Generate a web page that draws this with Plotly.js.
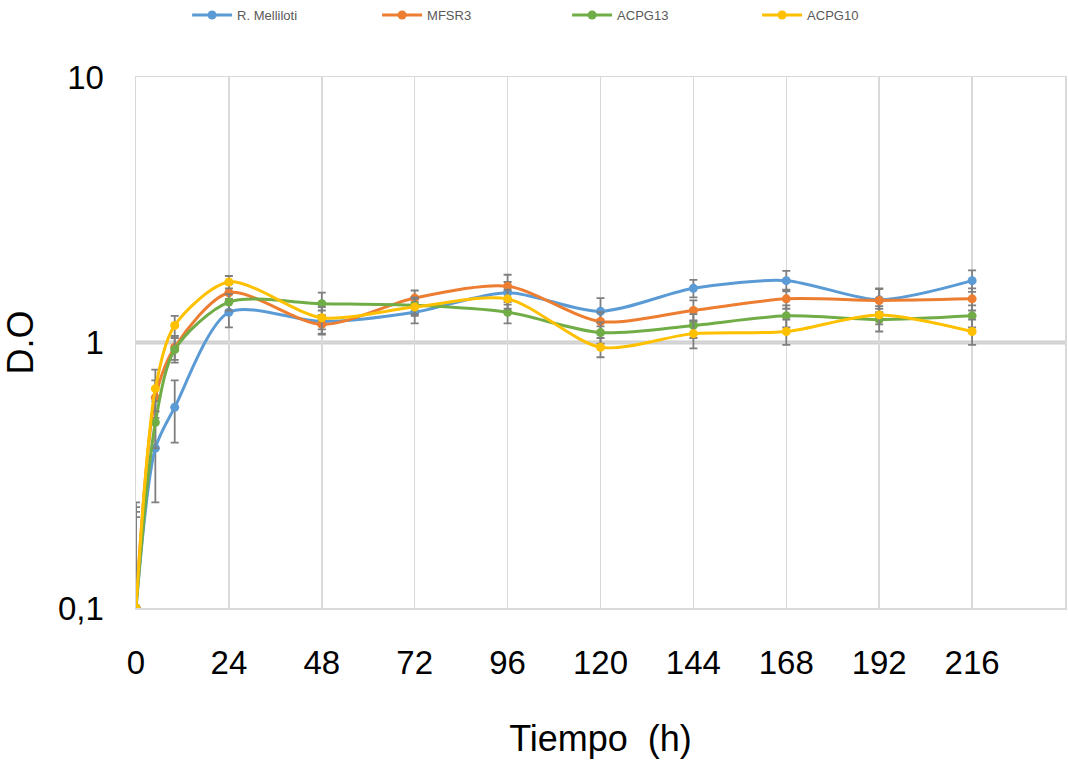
<!DOCTYPE html>
<html>
<head>
<meta charset="utf-8">
<script src="https://cdn.plot.ly/plotly-3.0.1.min.js"></script>
<style>html,body{margin:0;padding:0;background:#fff;}#chart{width:1068px;height:767px;}</style>
</head>
<body>
<div id="chart"></div>
<script>
const tiempo = [0, 5, 10, 24, 48, 72, 96, 120, 144, 168, 192, 216];
const seriesNames = ["R. Melliloti", "MFSR3", "ACPG13", "ACPG10"];
const melilotiDO = [0.1, 0.40, 0.57, 1.30, 1.20, 1.30, 1.54, 1.31, 1.60, 1.71, 1.45, 1.71];
const mfsr3DO    = [0.1, 0.62, 0.96, 1.54, 1.17, 1.47, 1.63, 1.20, 1.32, 1.46, 1.44, 1.46];
const acpg13DO   = [0.1, 0.50, 0.94, 1.42, 1.40, 1.38, 1.30, 1.09, 1.16, 1.26, 1.22, 1.26];
const acpg10DO   = [0.1, 0.67, 1.16, 1.69, 1.24, 1.36, 1.46, 0.96, 1.08, 1.10, 1.27, 1.10];
const melilotiErr = [0.15, 0.15, 0.15, 0.16, 0.12, 0.12, 0.15, 0.16, 0.12, 0.15, 0.15, 0.16];
const mfsr3Err    = [0.12, 0.10, 0.10, 0.12, 0.10, 0.10, 0.17, 0.10, 0.12, 0.12, 0.15, 0.14];
const acpg13Err   = [0.14, 0.10, 0.10, 0.10, 0.14, 0.10, 0.12, 0.10, 0.12, 0.12, 0.12, 0.12];
const acpg10Err   = [0.13, 0.12, 0.10, 0.09, 0.12, 0.10, 0.12, 0.08, 0.13, 0.12, 0.10, 0.12];
const xTicks = [0, 24, 48, 72, 96, 120, 144, 168, 192, 216];
const yTickVals = [0.1, 1, 10];
const yTickText = ["0,1", "1", "10"];

const colors = ["#5B9BD5", "#ED7D31", "#70AD47", "#FFC000"];
const ys = [melilotiDO, mfsr3DO, acpg13DO, acpg10DO];
const errs = [melilotiErr, mfsr3Err, acpg13Err, acpg10Err];

const traces = ys.map((y, i) => ({
  type: "scatter",
  mode: "lines+markers",
  name: seriesNames[i],
  x: tiempo,
  y: y,
  line: {color: colors[i], width: 3, shape: "spline", smoothing: 0.8},
  marker: {color: colors[i], size: 9, symbol: "circle"},
  error_y: {type: "data", array: errs[i], visible: true, color: "#7f7f7f", thickness: 1.8, width: 4}
}));

const font = "'Liberation Sans Narrow', 'Liberation Sans', Arial, sans-serif";

const layout = {
  width: 1068, height: 767,
  margin: {l: 136, r: 3, t: 77, b: 159},
  paper_bgcolor: "#ffffff", plot_bgcolor: "#ffffff",
  showlegend: true,
  legend: {
    orientation: "h", x: 0.055, xanchor: "left", y: 1, yref: "container", yanchor: "top",
    entrywidth: 135, entrywidthmode: "pixels",
    font: {family: font, size: 13, color: "#595959"},
    itemwidth: 40
  },
  xaxis: {
    range: [0, 240],
    tickvals: xTicks,
    ticktext: xTicks.map(String),
    showgrid: true, gridcolor: "#d9d9d9", gridwidth: 1.5,
    zeroline: false,
    showline: true, linecolor: "#d9d9d9", linewidth: 1.5, mirror: true,
    ticks: "", ticklabelstandoff: 25,
    tickfont: {family: font, size: 33, color: "#000"},
    title: {text: "Tiempo  (h)", font: {family: font, size: 36, color: "#000"}, standoff: 45}
  },
  yaxis: {
    type: "log",
    range: [-1, 1],
    tickvals: yTickVals,
    ticktext: yTickText,
    showgrid: true, gridcolor: "#d9d9d9", gridwidth: 1.5,
    zeroline: false,
    showline: true, linecolor: "#d9d9d9", linewidth: 1.5, mirror: true,
    ticks: "", ticklabelstandoff: 24,
    tickfont: {family: font, size: 33, color: "#000"},
    title: {text: "D.O", font: {family: font, size: 36, color: "#000"}, standoff: 14}
  },
  shapes: [{
    type: "line", xref: "paper", x0: 0, x1: 1, yref: "paper", y0: 0.5, y1: 0.5,
    line: {color: "#d0d0d0", width: 4}, layer: "below"
  }]
};

Plotly.newPlot("chart", traces, layout, {displayModeBar: false, staticPlot: true});
</script>
</body>
</html>
